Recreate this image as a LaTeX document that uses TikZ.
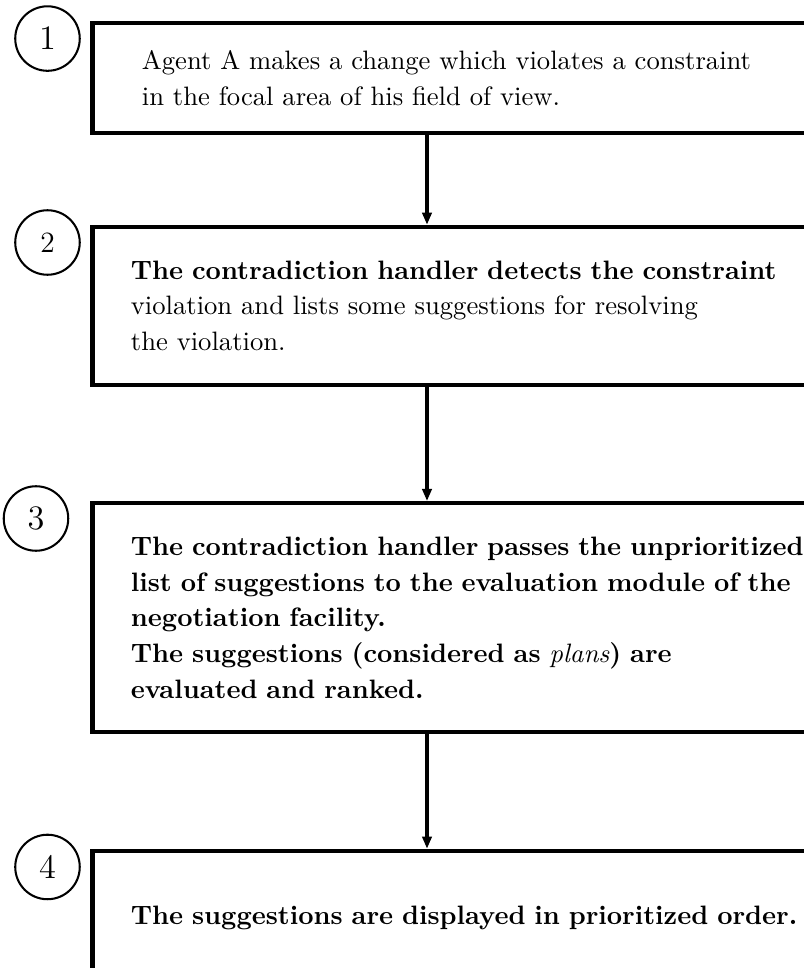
\documentclass[tikz,border=0pt]{standalone}
\usetikzlibrary{arrows.meta}
\tikzset{
    stepbox/.style={draw, rectangle, line width=1.6pt, anchor=north west, text width=280pt, align=left,
        inner ysep=0pt, inner xsep=15pt, font=\fontsize{10.4}{14}\selectfont},
    stepnum/.style={draw, circle, line width=0.8pt, minimum size=25.2pt, inner sep=0pt, font=\fontsize{13.4}{16}\selectfont},
    flow/.style={-{Triangle[length=4.7pt,width=3.6pt]}, line width=1.2pt}
}
\begin{document}
\begin{tikzpicture}
    \useasboundingbox (0,0) rectangle (11.024,-13.289);
    \node[stepnum] (n1) at (0.652,-0.529) {1};
    \node[stepnum, font=\fontsize{11.5}{13}\selectfont] (n2) at (0.652,-3.329) {2};
    \node[stepnum] (n3) at (0.494,-7.118) {3};
    \node[stepnum] (n4) at (0.652,-11.902) {4};
    \node[stepbox, inner xsep=19.3pt, minimum height=42.85pt] (b1) at (1.242,-0.292)
        {Agent A makes a change which violates a constraint\\ in the focal area of his field of view.};
    \node[stepbox, minimum height=61.7pt] (b2) at (1.242,-3.085)
        {\textbf{The contradiction handler detects the constraint}\\ violation and lists some suggestions for resolving\\ the violation.};
    \node[stepbox, minimum height=89.57pt, font=\fontsize{10.4}{14}\selectfont\bfseries] (b3) at (1.242,-6.878)
        {The contradiction handler passes the unprioritized\\ list of suggestions to the evaluation module of the\\ negotiation facility.\\ The suggestions (considered as {\mdseries\itshape plans}) are\\ evaluated and ranked.};
    \node[stepbox, minimum height=52.3pt, font=\fontsize{10.4}{14}\selectfont\bfseries] (b4) at (1.242,-11.651)
        {The suggestions are displayed in prioritized order.};
    \coordinate (axis) at (5.862,0);
    \draw[flow] (b1.south -| axis) -- (b2.north -| axis);
    \draw[flow] (b2.south -| axis) -- (b3.north -| axis);
    \draw[flow] (b3.south -| axis) -- (b4.north -| axis);
\end{tikzpicture}
\end{document}
